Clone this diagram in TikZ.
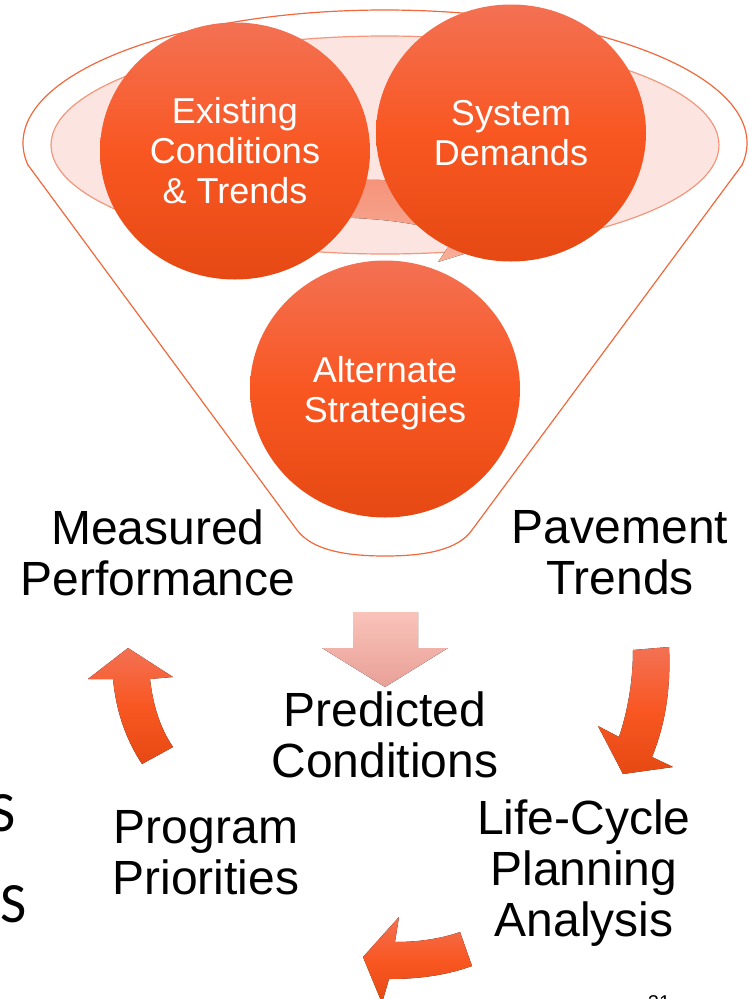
\documentclass[tikz,border=0pt]{standalone}
\usepackage{fontspec}
\setmainfont{Liberation Sans}
\newfontfamily\calib{Carlito}
\usetikzlibrary{shapes.geometric}
\definecolor{ballTop}{HTML}{F37153}
\definecolor{ballMid}{HTML}{F95722}
\definecolor{ballBot}{HTML}{E64913}
\definecolor{funnelLine}{HTML}{F0683C}
\definecolor{innerFill}{HTML}{FCE4E0}
\definecolor{innerLine}{HTML}{F2977C}
\definecolor{bandTop}{HTML}{F5937A}
\definecolor{bandBot}{HTML}{F8AE98}
\definecolor{pinkTop}{HTML}{F9C3B9}
\definecolor{pinkBot}{HTML}{E9A097}
\tikzset{
  ball/.style={ellipse, minimum width=270pt, minimum height=257pt, inner sep=0pt,
    top color=ballTop, bottom color=ballBot, middle color=ballMid,
    text=white, align=center, font=\fontsize{36}{40}\selectfont},
  lbl/.style={align=center, font=\fontsize{48}{51}\selectfont, text=black, inner sep=0pt},
  cyc/.style={top color=ballTop, bottom color=ballBot, middle color=ballMid},
  funnel/.style={draw=funnelLine, line width=1.2pt},
  innerell/.style={draw=innerLine, fill=innerFill, line width=1.2pt},
  band/.style={top color=bandTop, bottom color=bandBot},
  pinkarr/.style={top color=pinkTop, bottom color=pinkBot},
  cutS/.style={font=\calib\fontsize{57}{60}\selectfont, inner sep=0pt, anchor=base west, text=black}
}
\begin{document}
\begin{tikzpicture}[x=1pt,y=-1pt]
\useasboundingbox (0,0) rectangle (748,999);
\clip (0,0) rectangle (748,999);
% funnel outline
\begin{scope}
  \clip (0,0) rectangle (748,165);
  \draw[funnel] (385,143) ellipse [x radius=362, y radius=133];
\end{scope}
\draw[funnel] (28,165) -- (297,530) .. controls (312,550) and (345,556) .. (385,556)
  .. controls (425,556) and (458,550) .. (472,530) -- (742,165);
% inner ellipse
\draw[innerell] (385,145) ellipse [x radius=334, y radius=109];
% inner curved band arrow
\fill[band] (320,179) -- (380,180) .. controls (440,183) and (480,200) .. (500,215)
  -- (522,236) -- (438,262) -- (455,237) .. controls (430,226) and (400,219) .. (330,217) -- cycle;
% balls
\node[ball] (exist) at (235,151) {Existing\\Conditions\\\& Trends};
\node[ball] (sysdem) at (511,133) {System\\Demands};
\node[ball, text depth=0pt] (altstr) at (385,389) {Alternate\\Strategies};
% pink down arrow
\fill[pinkarr] (353,612) -- (418,612) -- (418,648) -- (448,648) -- (385,687) -- (322,648) -- (353,648) -- cycle;
% cycle arrows
\fill[cyc] (633,650) -- (669,647) .. controls (671,690) and (665,725) .. (652,757)
  -- (673,767) -- (623,774) -- (598,726) -- (619,737) .. controls (628,710) and (633,680) .. (633,650) -- cycle;
\fill[cyc] (128,648) -- (173,677) -- (150,679) .. controls (153,705) and (160,728) .. (173,747)
  -- (142,764) .. controls (125,738) and (116,710) .. (113,679) -- (88,679) -- cycle;
\fill[cyc] (363,957) -- (399,917) -- (395,942) .. controls (418,942) and (440,939) .. (460,932)
  -- (472,966) .. controls (447,975) and (420,979) .. (389,979) -- (382,1003) -- cycle;
% labels
\node[lbl] (meas) at (158,553) {Measured\\Performance};
\node[lbl] (pave) at (620,553) {Pavement\\Trends};
\node[lbl] (pred) at (385,735) {Predicted\\Conditions};
\node[lbl] (prog) at (206,853) {Program\\Priorities};
\node[lbl] (lcpa) at (584,873) {Life-Cycle\\Planning\\Analysis};
% cut-off letters at left edge and page number
\node[cutS] (s1) at (-11,831) {S};
\node[cutS] (s2) at (0,922) {S};
\node[font=\fontsize{20}{22}\selectfont, inner sep=0pt, anchor=north] (pnum) at (659,995) {21};
\end{tikzpicture}
\end{document}
